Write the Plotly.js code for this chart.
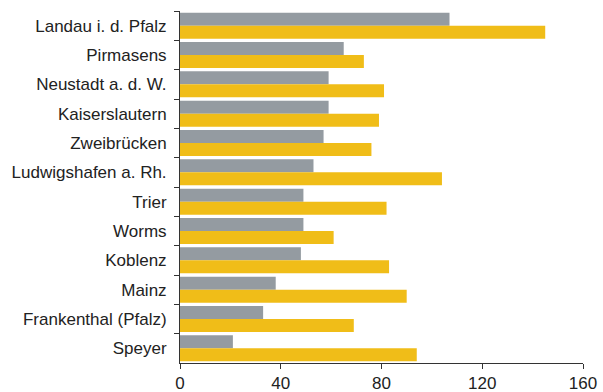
<!DOCTYPE html>
<html><head><meta charset="utf-8">
<script src="https://cdn.plot.ly/plotly-3.0.1.min.js"></script>
<style>html,body{margin:0;padding:0;background:#fff}#c{width:603px;height:392px}</style>
</head><body><div id="c"></div>
<script>
const categories = ["Landau i. d. Pfalz","Pirmasens","Neustadt a. d. W.","Kaiserslautern","Zweibrücken","Ludwigshafen a. Rh.","Trier","Worms","Koblenz","Mainz","Frankenthal (Pfalz)","Speyer"];
const seriesGray = [107,65,59,59,57,53,49,49,48,38,33,21];
const seriesYellow = [145,73,81,79,76,104,82,61,83,90,69,94];
const xTicks = [0,40,80,120,160];

const traces = [
  {type:"bar", orientation:"h", y:categories, x:seriesGray, marker:{color:"#949ba1"}, hoverinfo:"x"},
  {type:"bar", orientation:"h", y:categories, x:seriesYellow, marker:{color:"#f0bd18"}, hoverinfo:"x"}
];
const layout = {
  width:603, height:392,
  margin:{l:180, r:20, t:10.5, b:29.3, pad:0},
  paper_bgcolor:"#fff", plot_bgcolor:"#fff",
  showlegend:false,
  barmode:"group", bargap:0.114, bargroupgap:0,
  font:{family:"Liberation Sans, Arial, sans-serif", size:17, color:"#222"},
  xaxis:{range:[0,160], tickvals:xTicks, ticktext:xTicks.map(String), showgrid:false, zeroline:false,
         showline:true, linecolor:"#333", linewidth:1, ticks:"outside", ticklen:5, tickcolor:"#333", tickwidth:1,
         ticklabelstandoff:0, tickfont:{size:17, color:"#222"}},
  yaxis:{autorange:"reversed", type:"category", showgrid:false, zeroline:false, showline:true, linecolor:"#333", linewidth:1,
         ticks:"outside", tickson:"boundaries", ticklen:5, tickcolor:"#333", tickwidth:1, ticklabelstandoff:9,
         tickfont:{size:17, color:"#222"}}
};
Plotly.newPlot("c", traces, layout, {displayModeBar:false, staticPlot:true});
</script></body></html>
